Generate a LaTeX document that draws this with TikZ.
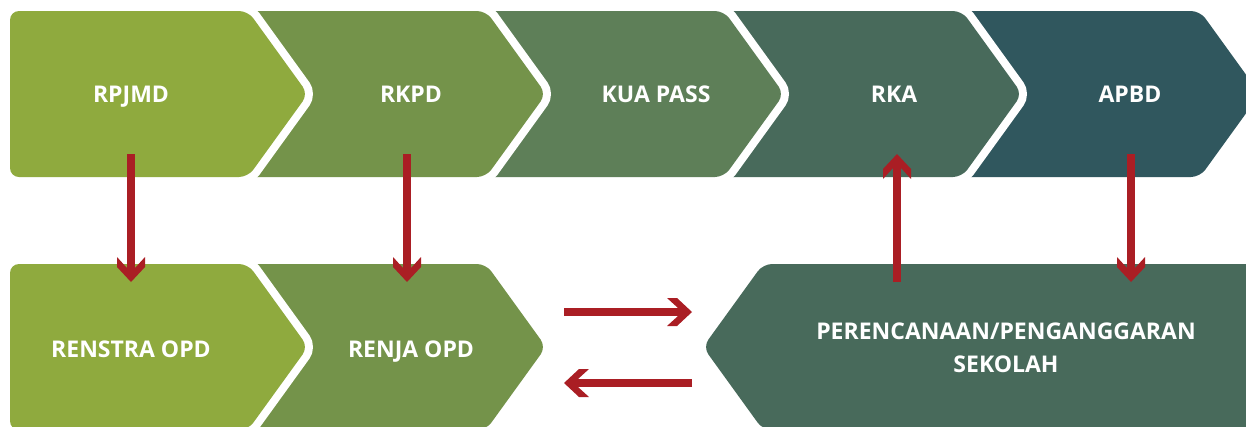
\documentclass[tikz,border=0pt]{standalone}
\usepackage{fontspec}
\setmainfont{Open Sans}

\definecolor{stepA}{HTML}{8FAA3E}
\definecolor{stepB}{HTML}{74934A}
\definecolor{stepC}{HTML}{5E7F58}
\definecolor{stepD}{HTML}{486A5B}
\definecolor{stepE}{HTML}{30575E}
\definecolor{linkred}{HTML}{AA1E24}

% Chunky chevron arrow tip with square shoulders
\pgfdeclarearrow{
  name = Chev,
  parameters = {},
  setup code = {
    \pgfarrowssettipend{0pt}
    \pgfarrowssetlineend{-13pt}
    \pgfarrowssetbackend{-25pt}
    \pgfarrowshullpoint{0pt}{0pt}
    \pgfarrowshullpoint{-25pt}{14pt}
    \pgfarrowshullpoint{-25pt}{-14pt}
  },
  drawing code = {
    \pgfpathmoveto{\pgfpoint{0pt}{0pt}}
    \pgfpathlineto{\pgfpoint{-15pt}{14pt}}
    \pgfpathlineto{\pgfpoint{-25pt}{14pt}}
    \pgfpathlineto{\pgfpoint{-14pt}{4pt}}
    \pgfpathlineto{\pgfpoint{-14pt}{-4pt}}
    \pgfpathlineto{\pgfpoint{-25pt}{-14pt}}
    \pgfpathlineto{\pgfpoint{-15pt}{-14pt}}
    \pgfpathclose
    \pgfusepathqfill
  }
}

\begin{document}
\begin{tikzpicture}[x=1pt, y=-1pt,
  chevron/.style={rounded corners=9pt, fill=#1,
    preaction={draw=white, line width=16pt}},
  lbl/.style={text=white, anchor=base, align=center, inner sep=0pt,
    font=\fontsize{23}{33}\selectfont\bfseries},
  link/.style={draw=linkred, fill=linkred, line width=8pt, -Chev}]

\useasboundingbox (0,0) rectangle (1246,426);
\clip (0,0) rectangle (1246,426);

% top row, drawn right to left so each step overlaps the next
\path[chevron=stepE] (922,11) -- (1200,11) -- (1260,94) -- (1200,177) -- (922,177) -- cycle;
\path[chevron=stepD] (684,11) -- (962,11) -- (1022,94) -- (962,177) -- (684,177) -- cycle;
\path[chevron=stepC] (446,11) -- (724,11) -- (784,94) -- (724,177) -- (446,177) -- cycle;
\path[chevron=stepB] (208,11) -- (486,11) -- (546,94) -- (486,177) -- (208,177) -- cycle;
\path[chevron=stepA] (10,11) -- (248,11) -- (308,94) -- (248,177) -- (10,177) -- cycle;

% bottom row
\path[chevron=stepD] (1270,264) -- (763,264) -- (703,347) -- (763,430) -- (1270,430) -- cycle;
\path[chevron=stepB] (208,264) -- (486,264) -- (546,347) -- (486,430) -- (208,430) -- cycle;
\path[chevron=stepA] (10,264) -- (248,264) -- (308,347) -- (248,430) -- (10,430) -- cycle;

% labels
\node[lbl] (rpjmd) at (131,102) {RPJMD};
\node[lbl] (rkpd)  at (411,102) {RKPD};
\node[lbl] (kua)   at (656,102) {KUA PASS};
\node[lbl] (rka)   at (894,102) {RKA};
\node[lbl] (apbd)  at (1130,102) {APBD};
\node[lbl] (renstra) at (131,357) {RENSTRA OPD};
\node[lbl] (renja)   at (411,357) {RENJA OPD};
% two-line label: its base anchor sits on the last line
\node[lbl] (sekolah) at (1006,372) {PERENCANAAN/PENGANGGARAN\\SEKOLAH};

% connector end points
\coordinate (rpjmd-out)   at (131,154);
\coordinate (renstra-in)  at (131,282);
\coordinate (rkpd-out)    at (407,154);
\coordinate (renja-in)    at (407,282);
\coordinate (rka-in)      at (897,154);
\coordinate (sekolah-up)  at (897,282);
\coordinate (apbd-out)    at (1131,154);
\coordinate (sekolah-in)  at (1131,282);
\coordinate (renja-right) at (564,312);
\coordinate (sekolah-left) at (692,312);
\coordinate (sekolah-back) at (692,383);
\coordinate (renja-back)  at (564,383);

% connectors
\draw[link] (rpjmd-out) -- (renstra-in);
\draw[link] (rkpd-out) -- (renja-in);
\draw[link] (sekolah-up) -- (rka-in);
\draw[link] (apbd-out) -- (sekolah-in);
\draw[link] (renja-right) -- (sekolah-left);
\draw[link] (sekolah-back) -- (renja-back);
\end{tikzpicture}
\end{document}
